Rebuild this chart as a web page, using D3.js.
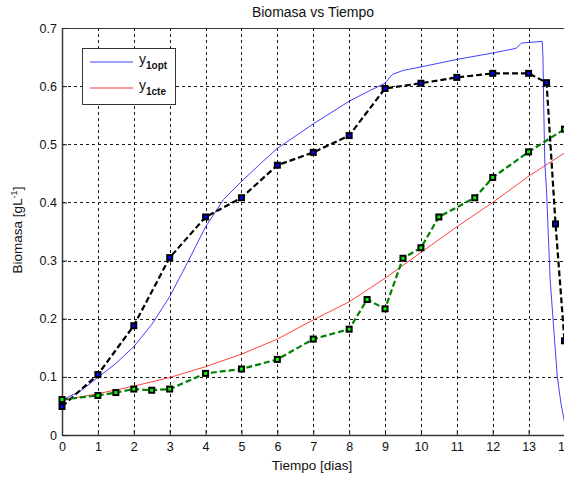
<!DOCTYPE html>
<html>
<head>
<meta charset="utf-8">
<script src="https://cdn.jsdelivr.net/npm/d3@7"></script>
<style>
  html, body { margin: 0; padding: 0; background: #fff; }
  svg { display: block; font-family: "Liberation Sans", Arial, sans-serif; }
</style>
</head>
<body>
<svg id="chart" width="564" height="477"></svg>
<script>
// Optimal-feed biomass trajectory (simulated)
const optT = [0, 0.5, 1, 1.5, 2, 2.5, 3, 3.5, 4, 4.5, 5, 5.5, 6, 7, 8, 8.5, 9, 9.2, 9.5, 10, 11, 12, 12.65, 12.8, 13.38, 13.40, 13.42, 13.45, 13.5, 13.6, 13.73, 13.8, 13.9, 14];
const optY = [0.060, 0.075, 0.099, 0.123, 0.152, 0.190, 0.238, 0.297, 0.358, 0.405, 0.436, 0.465, 0.493, 0.535, 0.574, 0.590, 0.605, 0.620, 0.627, 0.633, 0.646, 0.657, 0.665, 0.674, 0.677, 0.650, 0.570, 0.470, 0.420, 0.267, 0.158, 0.100, 0.055, 0.022];

// Constant-feed biomass trajectory (simulated)
const cteT = [0, 1, 2, 3, 4, 5, 6, 7, 8, 9, 10, 11, 12, 13, 14];
const cteY = [0.060, 0.071, 0.084, 0.099, 0.1175, 0.139, 0.165, 0.198, 0.229, 0.2695, 0.314, 0.358, 0.400, 0.445, 0.485];

// Measured biomass, optimal-feed run
const expOptT = [0, 1, 2, 3, 4, 5, 6, 7, 8, 9, 10, 11, 12, 13, 13.5, 13.75, 14];
const expOptY = [0.049, 0.104, 0.188, 0.305, 0.375, 0.408, 0.464, 0.486, 0.515, 0.596, 0.605, 0.615, 0.622, 0.622, 0.606, 0.363, 0.162];

// Measured biomass, constant-feed run
const expCteT = [0, 1, 1.5, 2, 2.5, 3, 4, 5, 6, 7, 8, 8.5, 9, 9.5, 10, 10.5, 11.5, 12, 13, 14];
const expCteY = [0.061, 0.068, 0.073, 0.079, 0.077, 0.079, 0.106, 0.1135, 0.130, 0.165, 0.182, 0.233, 0.217, 0.304, 0.322, 0.375, 0.408, 0.443, 0.487, 0.526];

const xTicks = d3.range(0, 15);
const yTicks = [0, 0.1, 0.2, 0.3, 0.4, 0.5, 0.6, 0.7];

const svg = d3.select("#chart");
const plotLeft = 62, plotRight = 564.5, plotTop = 28, plotBottom = 435;

const x = d3.scaleLinear().domain([0, 14]).range([plotLeft, plotRight]);
const y = d3.scaleLinear().domain([0, 0.7]).range([plotBottom, plotTop]);

// Grid
const grid = svg.append("g").attr("stroke", "#1a1a1a").attr("stroke-width", 1)
  .attr("stroke-dasharray", "3,3").attr("shape-rendering", "crispEdges");
grid.selectAll("line.v").data(xTicks.slice(1)).join("line")
  .attr("x1", d => Math.round(x(d)) + 0.5).attr("x2", d => Math.round(x(d)) + 0.5)
  .attr("y1", plotTop).attr("y2", plotBottom);
grid.selectAll("line.h").data(yTicks.slice(1)).join("line")
  .attr("x1", plotLeft).attr("x2", plotRight)
  .attr("y1", d => Math.round(y(d)) + 0.5).attr("y2", d => Math.round(y(d)) + 0.5);

// Axes box
const axisColor = "#3a3a3a";
svg.append("line").attr("x1", plotLeft).attr("x2", plotRight).attr("y1", plotTop + 0.5).attr("y2", plotTop + 0.5)
  .attr("stroke", axisColor).attr("stroke-width", 1.2);
const xAxis = d3.axisBottom(x).tickValues(xTicks).tickFormat(d3.format("d")).tickSizeInner(-5).tickSizeOuter(0).tickPadding(7);
const gx = svg.append("g").attr("transform", `translate(0,${plotBottom})`).call(xAxis);
const yAxis = d3.axisLeft(y).tickValues(yTicks).tickFormat(d => d === 0 ? "0" : d3.format(".1f")(d)).tickSizeInner(-5).tickSizeOuter(0).tickPadding(5);
const gy = svg.append("g").attr("transform", `translate(${plotLeft},0)`).call(yAxis);
[gx, gy].forEach(g => {
  g.select(".domain").attr("stroke", axisColor).attr("stroke-width", 1.5);
  g.selectAll(".tick line").attr("stroke", "#222");
  g.selectAll(".tick text").attr("fill", "#111").attr("font-size", 12.5)
    .attr("font-family", "'Liberation Sans', Arial, sans-serif");
});

// Series
const line = d3.line().x(d => x(d[0])).y(d => y(d[1]));
const zip = (a, b) => a.map((v, i) => [v, b[i]]);

svg.append("path").datum(zip(cteT, cteY)).attr("d", line)
  .attr("fill", "none").attr("stroke", "#ff2020").attr("stroke-width", 1).attr("stroke-opacity", 0.85);
svg.append("path").datum(zip(optT, optY)).attr("d", line)
  .attr("fill", "none").attr("stroke", "#1f1fff").attr("stroke-width", 1).attr("stroke-opacity", 0.85);
svg.append("path").datum(zip(expOptT, expOptY)).attr("d", line)
  .attr("fill", "none").attr("stroke", "#000").attr("stroke-width", 2.2).attr("stroke-dasharray", "6,3");
svg.append("path").datum(zip(expCteT, expCteY)).attr("d", line)
  .attr("fill", "none").attr("stroke", "#008000").attr("stroke-width", 2.2).attr("stroke-dasharray", "6,3");

function markers(data, fill) {
  const g = svg.append("g");
  g.selectAll("rect.o").data(data).join("rect")
    .attr("x", d => x(d[0]) - 3.5).attr("y", d => y(d[1]) - 3.5)
    .attr("width", 7).attr("height", 7).attr("fill", "#000");
  g.selectAll("rect.i").data(data).join("rect")
    .attr("x", d => x(d[0]) - 1.5).attr("y", d => y(d[1]) - 1.5)
    .attr("width", 3).attr("height", 3).attr("fill", fill);
}
markers(zip(expOptT, expOptY), "#0000ff");
markers(zip(expCteT, expCteY), "#00ff00");

// Title and axis labels
svg.append("text").attr("x", 313).attr("y", 17).attr("text-anchor", "middle")
  .attr("font-size", 14).attr("fill", "#111").text("Biomasa vs Tiempo");
svg.append("text").attr("x", 312).attr("y", 470).attr("text-anchor", "middle")
  .attr("font-size", 13.5).attr("fill", "#111").text("Tiempo [dias]");
const yl = svg.append("text").attr("transform", "translate(22,230) rotate(-90)")
  .attr("text-anchor", "middle").attr("font-size", 13.5).attr("fill", "#111");
yl.append("tspan").text("Biomasa [gL");
yl.append("tspan").attr("font-size", 9).attr("dy", -5).text("-1");
yl.append("tspan").attr("dy", 5).text("]");

// Legend
const lg = svg.append("g");
lg.append("rect").attr("x", 82.5).attr("y", 48.5).attr("width", 93).attr("height", 56)
  .attr("fill", "#fff").attr("stroke", "#333").attr("stroke-width", 1);
const legendItems = [
  { name: "y", sub: "1opt", color: "#4040ff", ly: 62 },
  { name: "y", sub: "1cte", color: "#ff3030", ly: 88 }
];
legendItems.forEach(it => {
  lg.append("line").attr("x1", 90).attr("x2", 133).attr("y1", it.ly).attr("y2", it.ly)
    .attr("stroke", it.color).attr("stroke-width", 1.2);
  const t = lg.append("text").attr("x", 139).attr("y", it.ly + 2).attr("font-size", 14).attr("fill", "#111");
  t.append("tspan").text(it.name);
  t.append("tspan").attr("dy", 5).attr("font-size", 10).attr("font-weight", "bold").text(it.sub);
});
</script>
</body>
</html>
